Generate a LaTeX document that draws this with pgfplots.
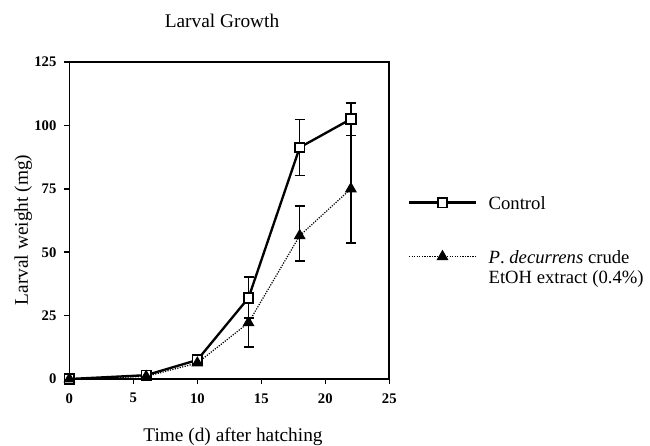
\documentclass[border=0pt]{standalone}
\usepackage{fontspec}
\setmainfont{Liberation Serif}
\usepackage{pgfplots}
\pgfplotsset{compat=1.18}

\newcommand{\lbl}{\fontsize{14.5}{15}\selectfont}
\newcommand{\legfont}{\fontsize{14}{15}\selectfont}
\newcommand{\rowstrut}{\rule[-4.5pt]{0pt}{15pt}}

\begin{document}
\begin{tikzpicture}
\useasboundingbox (0,0) rectangle (487.5pt,334.5pt);

\begin{axis}[
  at={(52.05pt,50.25pt)}, anchor=south west,
  scale only axis, width=239.9pt, height=237.75pt,
  xmin=0, xmax=25, ymin=0, ymax=125,
  xtick={0,5,...,25}, ytick={0,25,...,125},
  xtick pos=bottom, ytick pos=left,
  tick align=outside, major tick length=3.75pt,
  axis line style={line width=1.25pt},
  tick style={line width=1.1pt, black},
  /pgf/number format/assume math mode=true,
  ticklabel style={font=\fontsize{11}{12}\selectfont\bfseries},
  xticklabel shift=3.5pt, yticklabel shift=2.5pt,
  clip=false,
  legend cell align=left,
  legend image code/.code={
    \draw[mark repeat=2, mark phase=2, yshift=5.5pt, #1]
      plot coordinates {(0pt,0pt) (25pt,0pt) (50pt,0pt)};},
  legend style={at={(1.0585,0.5773)}, anchor=north west,
    draw=none, fill=none, inner sep=0pt, outer sep=0pt,
    column sep=8.75pt, row sep=0pt, font=\legfont,
    cells={anchor=base west},
    nodes={inner sep=0pt}},
]

% control
\addplot[black, line width=1.75pt,
  mark=square*, mark size=3.6pt,
  mark options={fill=white, solid, line width=1.3pt},
  error bars/.cd, y dir=both, y explicit,
  error mark options={rotate=90, mark size=3.75pt, line width=1.1pt},
  error bar style={line width=1.1pt, solid}]
  coordinates {
    (0,0)      +- (0,0)
    (6,1.5)    +- (0,0)
    (10,7.5)   +- (0,0)
    (14,32)    += (0,8.3)  -= (0,8)
    (18,91.3)  += (0,11.1) -= (0,11)
    (22,102.5) += (0,6.3)  -= (0,6.5)
  };
\addlegendentry{\rowstrut Control}

\addlegendimage{empty legend}
\addlegendentry{\rule{0pt}{27pt}}

% P. decurrens extract
\addplot[black, line width=0.9pt, densely dotted,
  mark=triangle*, mark size=4.3pt,
  mark options={fill=black, solid},
  error bars/.cd, y dir=both, y explicit,
  error mark options={rotate=90, mark size=3.75pt, line width=1.1pt},
  error bar style={line width=1.1pt, solid}]
  coordinates {
    (0,0)     +- (0,0)
    (6,1)     +- (0,0)
    (10,6.3)  +- (0,0)
    (14,22.2) +- (0,9.5)
    (18,56.5) += (0,11.7) -= (0,10)
    (22,75)   += (0,21)   -= (0,21.3)
  };
\addlegendentry{\begin{tabular}[t]{@{}l@{}}\textit{P}. \textit{decurrens} crude\\
  EtOH extract (0.4\%)\end{tabular}}
\end{axis}

\node[anchor=base, font=\lbl] at (166.5pt,314pt) {Larval Growth};
\node[anchor=base, font=\lbl] at (174.75pt,3.2pt) {Time (d) after hatching};
\node[anchor=base, rotate=90, font=\lbl] at (21pt,162pt) {Larval weight (mg)};
\end{tikzpicture}
\end{document}
